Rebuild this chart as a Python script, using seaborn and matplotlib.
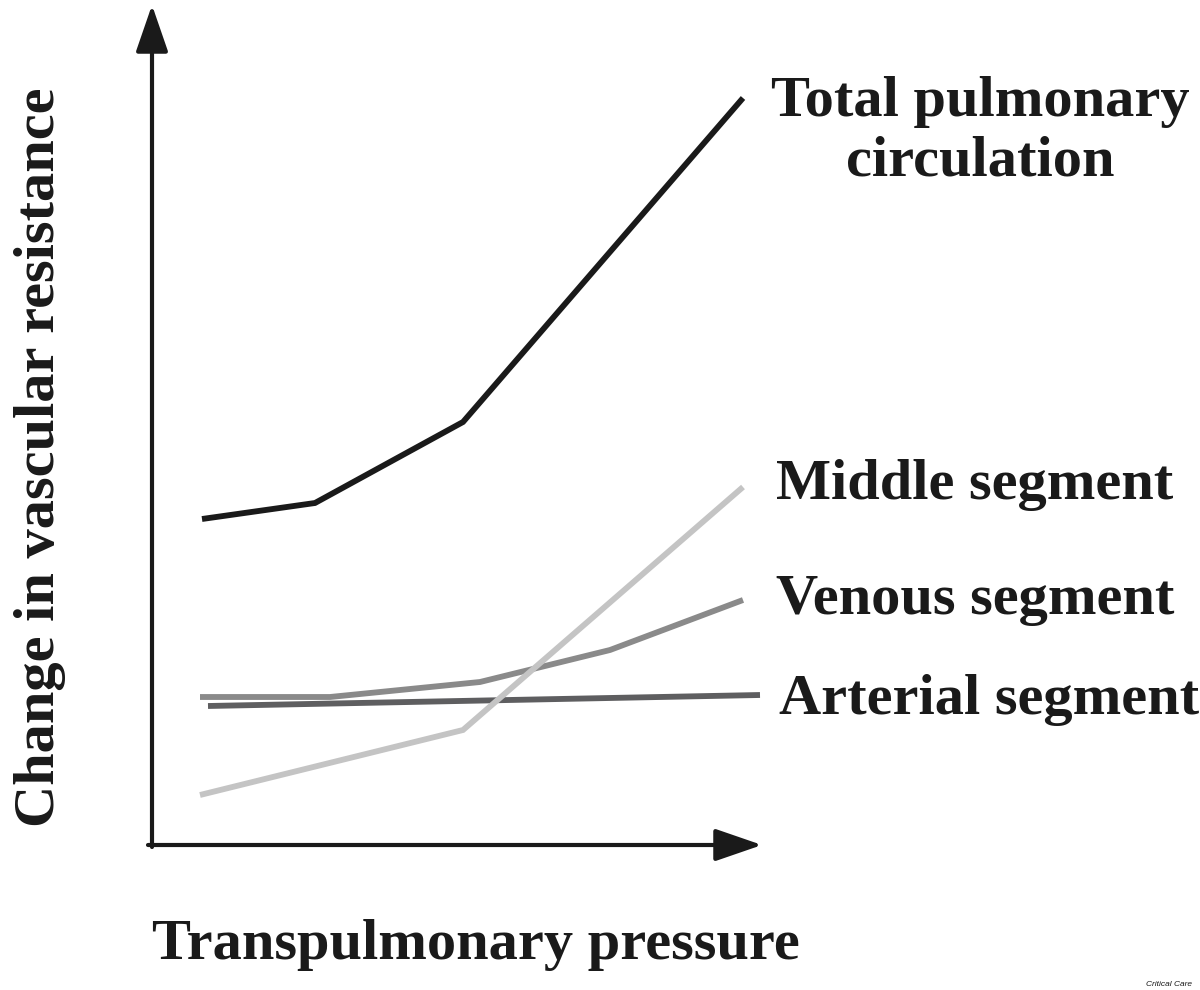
import pandas as pd
import numpy as np
import seaborn as sns
import matplotlib.pyplot as plt

# ---------------- data (1 unit ~ 100 px) ----------------
total_x = [0.50, 1.63, 3.11, 5.91]
total_y = [3.26, 3.42, 4.23, 7.47]

middle_x = [0.48, 3.11, 5.91]
middle_y = [0.50, 1.15, 3.58]

venous_x = [0.48, 1.78, 3.28, 4.58, 5.91]
venous_y = [1.48, 1.48, 1.63, 1.95, 2.45]

arterial_x = [0.56, 6.08]
arterial_y = [1.39, 1.50]

series = {
    "Total pulmonary\ncirculation": (total_x, total_y),
    "Middle segment": (middle_x, middle_y),
    "Venous segment": (venous_x, venous_y),
    "Arterial segment": (arterial_x, arterial_y),
}

colors = {
    "Total pulmonary\ncirculation": "#1a1a1a",
    "Middle segment": "#c4c4c4",
    "Venous segment": "#8a8a8a",
    "Arterial segment": "#5e5e60",
}

# label positions (x centre, y centre)
label_pos = {
    "Total pulmonary\ncirculation": (8.28, 7.13),
    "Middle segment": (8.23, 3.60),
    "Venous segment": (8.23, 2.45),
    "Arterial segment": (8.37, 1.45),
}

rows = []
for name, (xs, ys) in series.items():
    for x, y in zip(xs, ys):
        rows.append({"Pressure": x, "Resistance": y, "Segment": name})
df = pd.DataFrame(rows)

# ---------------- plot ----------------
sns.set_style("white")
plt.rcParams["font.family"] = ["Liberation Serif", "DejaVu Serif"]

fig = plt.figure(figsize=(12, 9.9), dpi=100)
ax = fig.add_axes([0, 0, 1, 1])

sns.lineplot(data=df, x="Pressure", y="Resistance", hue="Segment",
             palette=colors, hue_order=list(series.keys())[::-1],
             sort=False, estimator=None, linewidth=4.2, legend=False, ax=ax)
for line in ax.lines:
    line.set_solid_capstyle("butt")
    line.set_solid_joinstyle("miter")

ax.set_xlim(-1.52, 10.48)
ax.set_ylim(-1.45, 8.45)
ax.axis("off")

# axis arrows
arrow = dict(arrowstyle="-|>,head_length=1.45,head_width=0.5", lw=3.0,
             color="#1a1a1a", shrinkA=0, shrinkB=0, mutation_scale=20)
ax.annotate("", xy=(0, 8.4), xytext=(0, -0.02), arrowprops=arrow)
ax.annotate("", xy=(6.1, 0), xytext=(-0.04, 0), arrowprops=arrow)

# series labels
for name, (lx, ly) in label_pos.items():
    ax.text(lx, ly, name, fontsize=42, fontweight="bold", ha="center",
            va="center", color="#1a1a1a", linespacing=1.2)

ax.text(-1.12, 3.88, "Change in vascular resistance", rotation=90,
        fontsize=42, fontweight="bold", ha="center", va="center",
        color="#1a1a1a")
ax.text(3.24, -1.0, "Transpulmonary pressure", fontsize=42,
        fontweight="bold", ha="center", va="center", color="#1a1a1a")

ax.text(10.4, -1.4, "Critical Care", fontsize=6, style="italic",
        family="Liberation Sans", ha="right", va="center", color="#1a1a1a")

plt.savefig("out.png", dpi=100)
